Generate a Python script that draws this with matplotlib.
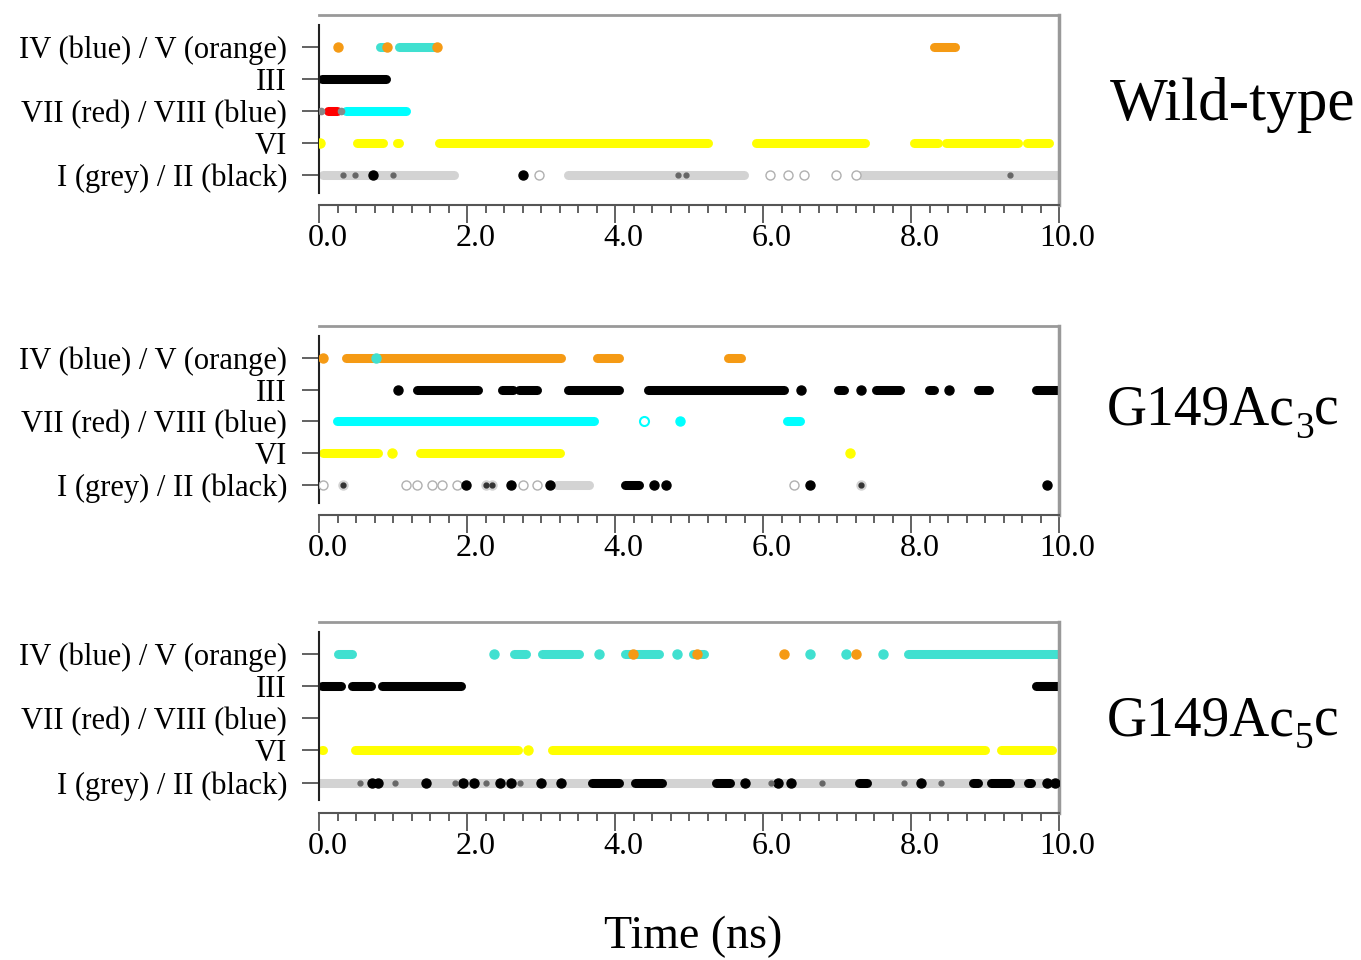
import matplotlib
matplotlib.use("Agg")
import matplotlib.pyplot as plt
from matplotlib.ticker import MultipleLocator
from matplotlib.transforms import ScaledTranslation

plt.rcParams['font.family'] = ['Liberation Serif', 'DejaVu Serif']

# row labels, top to bottom
row_labels = ["IV (blue) / V (orange)", "III", "VII (red) / VIII (blue)", "VI", "I (grey) / II (black)"]
row_pos = [5, 4, 3, 2, 1]
x_ticks = [0, 2, 4, 6, 8, 10]

TURQ = '#40e0d0'
CYAN = '#00ffff'
ORANGE = '#f59a14'
YELLOW = '#ffff00'
RED = '#ff0000'
GREY = '#d3d3d3'

# ---- Wild-type (times in ns) ----
wt_iv_segs = [(0.83, 0.88), (1.08, 1.55)]
wt_v_segs = [(8.31, 8.60)]
wt_v_dots = [0.26, 0.92, 1.60]
wt_iii_segs = [(0.04, 0.91)]
wt_vii_segs = [(0.12, 0.24)]
wt_viii_segs = [(0.36, 1.17)]
wt_vii_grey = [0.03, 0.30]
wt_vi_segs = [(0.51, 0.86), (1.05, 1.08), (1.62, 5.25), (5.90, 7.38),
              (8.04, 8.36), (8.47, 9.45), (9.57, 9.87)]
wt_vi_dots = [0.02]
wt_i_segs = [(0.06, 1.82), (3.37, 5.74), (7.32, 10.0)]
wt_i_open = [2.97, 6.10, 6.34, 6.56, 6.98, 7.26]
wt_ii_dots = [0.73, 2.75]
wt_ii_small = [0.33, 0.49, 1.00, 4.85, 4.96, 9.34]

# ---- G149Ac3c ----
c3_iv_dots = [0.77]
c3_v_segs = [(0.37, 3.27), (3.76, 4.05), (5.53, 5.70)]
c3_v_dots = [0.05]
c3_iii_segs = [(1.33, 2.15), (2.47, 2.62), (2.70, 2.94), (3.37, 4.05), (4.45, 6.28),
               (7.01, 7.09), (7.53, 7.85), (8.24, 8.31), (8.91, 9.06), (9.69, 10.0)]
c3_iii_dots = [1.07, 6.52, 7.33, 8.52]
c3_viii_segs = [(0.24, 3.71), (6.33, 6.50)]
c3_viii_dots = [4.88]
c3_viii_open = [4.39]
c3_vi_segs = [(0.05, 0.80), (1.36, 3.25)]
c3_vi_dots = [0.99, 7.18]
c3_i_segs = [(3.21, 3.65)]
c3_i_open = [0.05, 1.17, 1.32, 1.53, 1.66, 1.87, 2.76, 2.95, 6.42]
c3_i_mixed = [0.33, 2.25, 2.34, 7.32]
c3_ii_segs = [(4.14, 4.33)]
c3_ii_dots = [1.99, 2.59, 3.12, 4.53, 4.69, 6.63, 9.84]

# ---- G149Ac5c ----
c5_iv_segs = [(0.25, 0.45), (2.63, 2.80), (3.01, 3.52), (4.14, 4.60), (5.05, 5.20), (7.96, 10.0)]
c5_iv_dots = [2.36, 3.78, 4.84, 6.63, 7.12, 7.62]
c5_v_dots = [4.24, 5.11, 6.29, 7.26]
c5_iii_segs = [(0.04, 0.30), (0.45, 0.70), (0.85, 1.92), (9.69, 10.0)]
c5_vi_segs = [(0.04, 0.06), (0.48, 2.69), (3.15, 9.00), (9.22, 9.91)]
c5_vi_dots = [2.83]
c5_i_segs = [(0.0, 10.0)]
c5_ii_segs = [(3.69, 4.05), (4.27, 4.63), (5.36, 5.55), (7.30, 7.41),
              (8.84, 8.90), (9.08, 9.34), (9.58, 9.62)]
c5_ii_dots = [0.72, 0.80, 1.44, 1.95, 2.10, 2.45, 2.60, 3.00, 3.27,
              5.75, 6.20, 6.38, 8.14, 9.84, 9.95]
c5_ii_small = [0.56, 1.03, 1.84, 2.25, 2.72, 6.11, 6.80, 7.90, 8.40]

LW = 6.5
MS = 6.5


def segs(ax, y, intervals, color, z=2):
    for a, b in intervals:
        ax.plot([a, b], [y, y], color=color, lw=LW, solid_capstyle='round', zorder=z)


def dots(ax, y, xs, color, size=MS, z=3, open_=False):
    if open_:
        ax.plot(xs, [y] * len(xs), 'o', ms=size, mfc='white', mec='#b0b0b0', mew=1.0,
                ls='none', zorder=z)
    else:
        ax.plot(xs, [y] * len(xs), 'o', ms=size, color=color, ls='none', zorder=z)


def style(ax):
    ax.set_xlim(0, 10)
    ax.set_ylim(0.05, 6.0)
    ax.set_yticks(row_pos)
    ax.set_yticklabels(row_labels, fontsize=22)
    ax.set_xticks(x_ticks)
    ax.set_xticklabels(["%.1f" % v for v in x_ticks], fontsize=23)
    ax.xaxis.set_minor_locator(MultipleLocator(0.25))
    ax.tick_params(axis='y', length=12, width=1.3, color='#555555', pad=11)
    ax.tick_params(axis='x', which='major', length=13, width=1.3, color='#555555', pad=1)
    ax.tick_params(axis='x', which='minor', length=6, width=1.3, color='#555555')
    shift = ScaledTranslation(6 / 72, 0, fig.dpi_scale_trans)
    for lab in ax.get_xticklabels():
        lab.set_transform(lab.get_transform() + shift)
    ax.spines['top'].set_color('#999999')
    ax.spines['top'].set_linewidth(2)
    ax.spines['right'].set_color('#999999')
    ax.spines['right'].set_linewidth(2.5)
    ax.spines['left'].set_color('#222222')
    ax.spines['left'].set_linewidth(1.5)
    ax.spines['left'].set_bounds(0.44, 5.69)
    ax.spines['bottom'].set_color('#555555')
    ax.spines['bottom'].set_linewidth(1.5)


fig = plt.figure(figsize=(13.61, 9.6), dpi=100)
W, H = 1361.0, 960.0


def make_ax(top, bottom):
    return fig.add_axes([319 / W, 1 - bottom / H, 740 / W, (bottom - top) / H])


# Wild-type
ax1 = make_ax(15, 205)
segs(ax1, 5, wt_iv_segs, TURQ)
dots(ax1, 5, wt_v_dots, ORANGE)
segs(ax1, 5, wt_v_segs, ORANGE)
segs(ax1, 4, wt_iii_segs, 'black')
segs(ax1, 3, wt_viii_segs, CYAN)
segs(ax1, 3, wt_vii_segs, RED)
dots(ax1, 3, wt_vii_grey, '#888888', size=4.5)
segs(ax1, 2, wt_vi_segs, YELLOW)
dots(ax1, 2, wt_vi_dots, YELLOW)
segs(ax1, 1, wt_i_segs, GREY)
dots(ax1, 1, wt_i_open, None, open_=True)
dots(ax1, 1, wt_ii_dots, 'black')
dots(ax1, 1, wt_ii_small, '#666666', size=3.5)
style(ax1)

# G149Ac3c
ax2 = make_ax(326, 515)
segs(ax2, 5, c3_v_segs, ORANGE)
dots(ax2, 5, c3_v_dots, ORANGE)
dots(ax2, 5, c3_iv_dots, TURQ)
segs(ax2, 4, c3_iii_segs, 'black')
dots(ax2, 4, c3_iii_dots, 'black')
segs(ax2, 3, c3_viii_segs, CYAN)
dots(ax2, 3, c3_viii_dots, CYAN)
ax2.plot(c3_viii_open, [3] * len(c3_viii_open), 'o', ms=MS, mfc='white', mec=CYAN,
         mew=1.5, ls='none', zorder=3)
segs(ax2, 2, c3_vi_segs, YELLOW)
dots(ax2, 2, c3_vi_dots, YELLOW)
segs(ax2, 1, c3_i_segs, GREY)
dots(ax2, 1, c3_i_open, None, open_=True)
dots(ax2, 1, c3_i_mixed, GREY)
dots(ax2, 1, c3_i_mixed, '#333333', size=3.5, z=4)
segs(ax2, 1, c3_ii_segs, 'black')
dots(ax2, 1, c3_ii_dots, 'black')
style(ax2)

# G149Ac5c
ax3 = make_ax(622, 813)
segs(ax3, 5, c5_iv_segs, TURQ)
dots(ax3, 5, c5_iv_dots, TURQ)
dots(ax3, 5, c5_v_dots, ORANGE, z=4)
segs(ax3, 4, c5_iii_segs, 'black')
segs(ax3, 2, c5_vi_segs, YELLOW)
dots(ax3, 2, c5_vi_dots, YELLOW)
segs(ax3, 1, c5_i_segs, GREY)
segs(ax3, 1, c5_ii_segs, 'black', z=3)
dots(ax3, 1, c5_ii_dots, 'black')
dots(ax3, 1, c5_ii_small, '#666666', size=3.5)
style(ax3)

fig.text(1110 / W, 1 - 120 / H, "Wild-type", fontsize=44, ha='left', va='baseline')
fig.text(693 / W, 1 - 937 / H, "Time (ns)", fontsize=33, ha='center', va='center')

renderer = fig.canvas.get_renderer()


def sub_title(x_px, base_px, main, sub, tail):
    t = fig.text(x_px / W, 1 - base_px / H, main, fontsize=40, ha='left', va='baseline')
    x1 = t.get_window_extent(renderer).x1
    s = fig.text(x1 / W, 1 - (base_px + 13) / H, sub, fontsize=27, ha='left', va='baseline')
    x2 = s.get_window_extent(renderer).x1
    fig.text(x2 / W, 1 - base_px / H, tail, fontsize=40, ha='left', va='baseline')


sub_title(1107, 425, "G149Ac", "3", "c")
sub_title(1107, 735, "G149Ac", "5", "c")

fig.savefig("out.png", dpi=100)
